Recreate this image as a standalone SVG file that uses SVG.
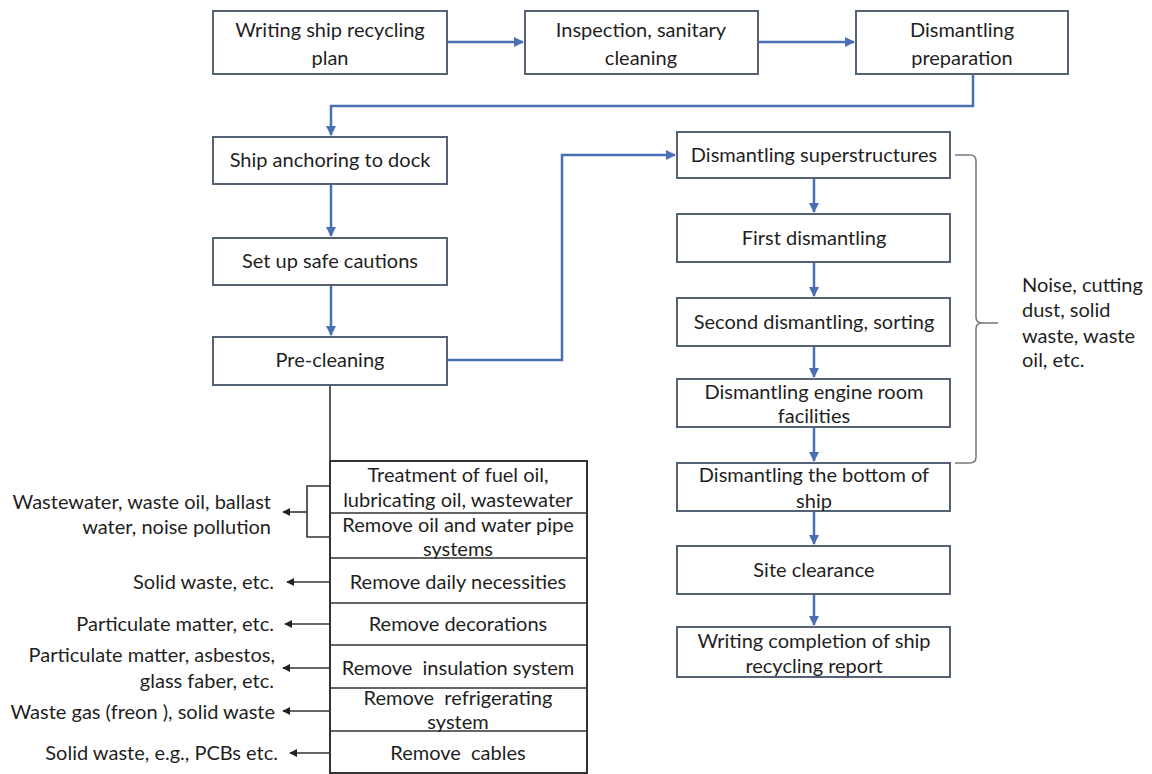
<svg xmlns="http://www.w3.org/2000/svg" width="1152" height="774" viewBox="0 0 1152 774">
  <defs>
    <style>
      .box { fill: #ffffff; stroke: #556275; stroke-width: 2; }
      .list { fill: #ffffff; stroke: #333333; stroke-width: 2; }
      .t { font-family: Lato, "Liberation Sans", sans-serif; font-size: 20px; fill: #1f1f1f; text-anchor: middle; white-space: pre; }
      .lbl { font-family: Lato, "Liberation Sans", sans-serif; font-size: 20px; fill: #1f1f1f; text-anchor: end; white-space: pre; }
      .side { font-family: Lato, "Liberation Sans", sans-serif; font-size: 20px; fill: #1f1f1f; text-anchor: start; }
      .flow { fill: none; stroke: #4a6fb5; stroke-width: 2.5; }
      .thin { fill: none; stroke: #333333; stroke-width: 1.6; }
      .brace { fill: none; stroke: #7a7a7a; stroke-width: 1.6; }
    </style>
    <marker id="blueHead" viewBox="0 0 10 10" refX="9" refY="5" markerWidth="4" markerHeight="4" orient="auto">
      <path d="M0,0 L10,5 L0,10 z" fill="#4a6fb5"/>
    </marker>
    <marker id="blackHead" viewBox="0 0 10 10" refX="9" refY="5" markerWidth="5" markerHeight="5" orient="auto">
      <path d="M0,0 L10,5 L0,10 z" fill="#222222"/>
    </marker>
  </defs>
  <rect width="1152" height="774" fill="#ffffff"/>

  <!-- connectors -->
  <g id="connectors">
    <path class="flow" d="M447,42 H523" marker-end="url(#blueHead)"/>
    <path class="flow" d="M758,42 H854" marker-end="url(#blueHead)"/>
    <path class="flow" d="M973,74 V106 H331 V135" marker-end="url(#blueHead)"/>
    <path class="flow" d="M331,184 V236" marker-end="url(#blueHead)"/>
    <path class="flow" d="M331,285 V335" marker-end="url(#blueHead)"/>
    <path class="flow" d="M447,360 H562 V155 H675" marker-end="url(#blueHead)"/>
    <path class="flow" d="M814,178 V212" marker-end="url(#blueHead)"/>
    <path class="flow" d="M814,262 V296" marker-end="url(#blueHead)"/>
    <path class="flow" d="M814,346 V377" marker-end="url(#blueHead)"/>
    <path class="flow" d="M814,427 V461" marker-end="url(#blueHead)"/>
    <path class="flow" d="M814,511 V544" marker-end="url(#blueHead)"/>
    <path class="flow" d="M814,594 V625" marker-end="url(#blueHead)"/>
    <!-- pre-cleaning down to the removal list -->
    <path class="thin" d="M330,385 V461"/>
    <!-- emission arrows from the removal list -->
    <path class="thin" d="M330,486 H307 V537 H330"/>
    <path class="thin" d="M307,512 H283" marker-end="url(#blackHead)"/>
    <path class="thin" d="M330,582 H287" marker-end="url(#blackHead)"/>
    <path class="thin" d="M330,624 H285" marker-end="url(#blackHead)"/>
    <path class="thin" d="M330,668 H283" marker-end="url(#blackHead)"/>
    <path class="thin" d="M330,711 H283" marker-end="url(#blackHead)"/>
    <path class="thin" d="M330,753 H290" marker-end="url(#blackHead)"/>
    <!-- brace grouping the dismantling steps -->
    <path class="brace" d="M955,155 H970 Q976,155 976,161 V317 Q976,323 982,323 Q976,323 976,329 V457 Q976,463 970,463 H955"/>
    <path class="brace" d="M982,323 H998"/>
  </g>

  <!-- top row -->
  <g id="n-plan">
    <rect class="box" x="213" y="11" width="234" height="63"/>
    <text class="t" x="330" y="37">Writing ship recycling</text>
    <text class="t" x="330" y="65">plan</text>
  </g>
  <g id="n-inspection">
    <rect class="box" x="525" y="11" width="233" height="63"/>
    <text class="t" x="641" y="37">Inspection, sanitary</text>
    <text class="t" x="641" y="65">cleaning</text>
  </g>
  <g id="n-prep">
    <rect class="box" x="856" y="11" width="212" height="63"/>
    <text class="t" x="962" y="37">Dismantling</text>
    <text class="t" x="962" y="65">preparation</text>
  </g>

  <!-- left column -->
  <g id="n-anchor">
    <rect class="box" x="213" y="137" width="234" height="47"/>
    <text class="t" x="330" y="167">Ship anchoring to dock</text>
  </g>
  <g id="n-safe">
    <rect class="box" x="213" y="238" width="234" height="47"/>
    <text class="t" x="330" y="268">Set up safe cautions</text>
  </g>
  <g id="n-preclean">
    <rect class="box" x="213" y="337" width="234" height="48"/>
    <text class="t" x="330" y="367">Pre-cleaning</text>
  </g>

  <!-- right column -->
  <g id="n-super">
    <rect class="box" x="677" y="132" width="273" height="46"/>
    <text class="t" x="814" y="162">Dismantling superstructures</text>
  </g>
  <g id="n-first">
    <rect class="box" x="677" y="214" width="273" height="48"/>
    <text class="t" x="814" y="245">First dismantling</text>
  </g>
  <g id="n-second">
    <rect class="box" x="677" y="298" width="273" height="48"/>
    <text class="t" x="814" y="329">Second dismantling, sorting</text>
  </g>
  <g id="n-engine">
    <rect class="box" x="677" y="379" width="273" height="48"/>
    <text class="t" x="814" y="399">Dismantling engine room</text>
    <text class="t" x="814" y="423">facilities</text>
  </g>
  <g id="n-bottom">
    <rect class="box" x="677" y="463" width="273" height="48"/>
    <text class="t" x="814" y="482">Dismantling the bottom of</text>
    <text class="t" x="814" y="508">ship</text>
  </g>
  <g id="n-site">
    <rect class="box" x="677" y="546" width="273" height="48"/>
    <text class="t" x="814" y="577">Site clearance</text>
  </g>
  <g id="n-report">
    <rect class="box" x="677" y="627" width="273" height="50"/>
    <text class="t" x="814" y="648">Writing completion of ship</text>
    <text class="t" x="814" y="673">recycling report</text>
  </g>

  <!-- emissions of the dismantling steps -->
  <g id="n-noise">
    <text class="side" x="1022" y="292">Noise, cutting</text>
    <text class="side" x="1022" y="317">dust, solid</text>
    <text class="side" x="1022" y="343">waste, waste</text>
    <text class="side" x="1022" y="367">oil, etc.</text>
  </g>

  <!-- removal list -->
  <g id="n-removal">
    <rect class="list" x="330" y="461" width="257" height="312"/>
    <path class="thin" d="M330,513 H587 M330,558 H587 M330,603 H587 M330,645 H587 M330,688 H587 M330,731 H587"/>
    <text class="t" x="458" y="482">Treatment of fuel oil,</text>
    <text class="t" x="458" y="507">lubricating oil, wastewater</text>
    <text class="t" x="458" y="532">Remove oil and water pipe</text>
    <text class="t" x="458" y="556">systems</text>
    <text class="t" x="458" y="589">Remove daily necessities</text>
    <text class="t" x="458" y="631">Remove decorations</text>
    <text class="t" x="458" y="675">Remove  insulation system</text>
    <text class="t" x="458" y="705">Remove  refrigerating</text>
    <text class="t" x="458" y="729">system</text>
    <text class="t" x="458" y="760">Remove  cables</text>
  </g>

  <!-- emission labels of the removal list -->
  <g id="n-emissions">
    <text class="lbl" x="271" y="509">Wastewater, waste oil, ballast</text>
    <text class="lbl" x="271" y="534">water, noise pollution</text>
    <text class="lbl" x="274" y="589">Solid waste, etc.</text>
    <text class="lbl" x="274" y="631">Particulate matter, etc.</text>
    <text class="lbl" x="275" y="662">Particulate matter, asbestos,</text>
    <text class="lbl" x="274" y="688">glass faber, etc.</text>
    <text class="lbl" x="275" y="719">Waste gas (freon ), solid waste</text>
    <text class="lbl" x="278" y="760">Solid waste, e.g., PCBs etc.</text>
  </g>
</svg>
